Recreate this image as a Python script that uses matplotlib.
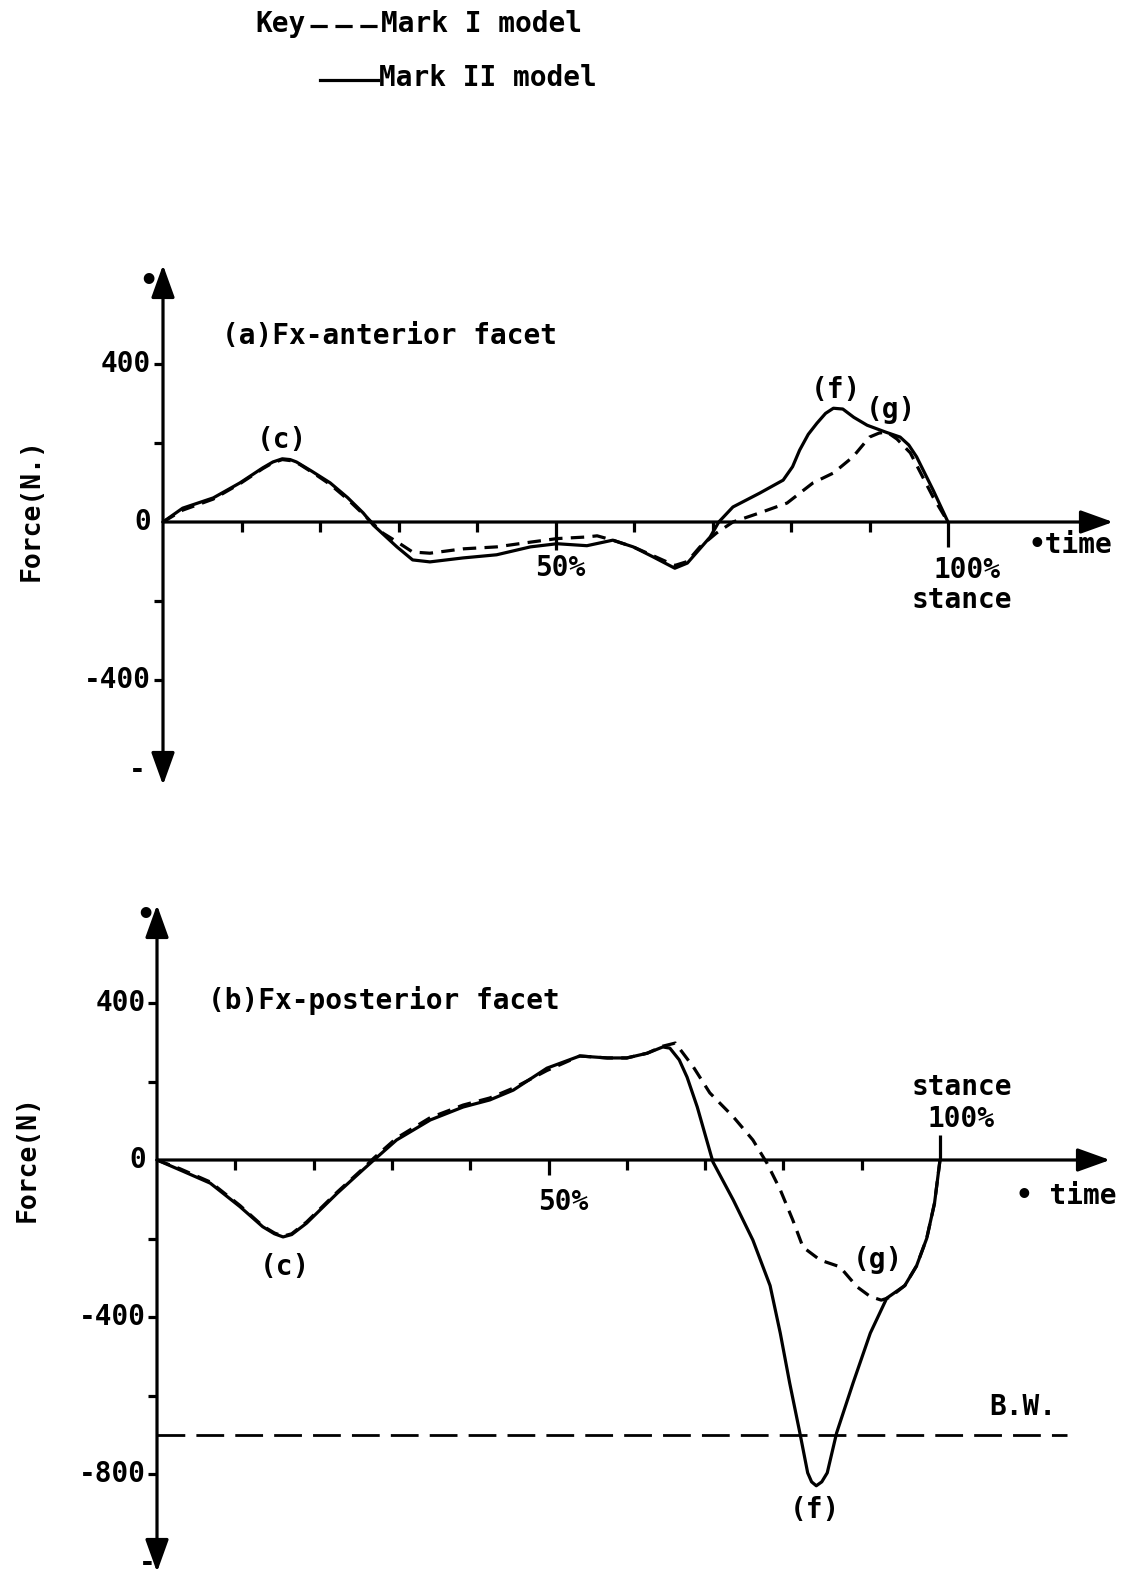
import matplotlib
matplotlib.use("Agg")
import matplotlib.pyplot as plt

W, H, DPI = 1123, 1575, 100
FONT = "DejaVu Sans Mono"
WEIGHT = "bold"
INK = "black"
LW = 2.3
FS = 20

# ---------------- data ----------------
# (a) Fx - anterior facet: % of stance vs force (N)
ant_pct_mk2 = [0, 2.5, 6.4, 9.8, 12.7, 14, 15.2, 16.2, 17, 19, 21.3, 23.5, 25.5, 26.8,
               29.8, 31.8, 34, 38.2, 42.5, 46.8, 50.2, 54, 57.3, 59.9, 62.4, 65.2,
               66.8, 69.7, 70.8, 72.6, 76, 79, 80.2, 81.1, 82.2, 83.3, 84.4, 85.4,
               86.6, 88, 89.7, 92, 93.9, 95, 96, 98.1, 100]
ant_force_mk2 = [0, 35, 61, 99, 137, 152, 160, 158, 152, 128, 99, 62, 23, -8,
                 -63, -96, -101, -91, -83, -63, -55, -60, -46, -63, -88, -117,
                 -104, -38, 0, 38, 73, 106, 140, 182, 222, 250, 275, 288, 286,
                 265, 245, 228, 215, 195, 165, 81, 0]
ant_pct_mk1 = [0, 2.5, 6.4, 9.8, 12.7, 14, 15.2, 16.4, 17.4, 19.3, 21.3, 23.5, 25.5,
               28, 29.8, 31.8, 34, 38.2, 42.5, 46.8, 50.2, 53.9, 55.3, 57.3, 59.9,
               62.4, 65.2, 66.8, 68.4, 70.5, 72.6, 76, 79.5, 82.8, 85.4, 87.9, 90,
               91.2, 92.2, 93.5, 95.2, 98.1, 100]
ant_force_mk1 = [0, 30, 58, 97, 135, 150, 158, 155, 146, 122, 95, 58, 20,
                 -28, -50, -76, -79, -68, -63, -51, -42, -38, -35, -46, -63,
                 -85, -110, -100, -63, -28, 0, 23, 48, 99, 124, 165, 215,
                 225, 228, 210, 175, 63, 0]

# (b) Fx - posterior facet
post_pct_mk2 = [0, 2.9, 6.8, 10.6, 13.5, 15, 16.1, 17.2, 19.1, 23, 26.3, 27.7, 30.6,
                34.9, 39.1, 42.5, 45.5, 49.8, 54, 57.5, 60, 62.6, 64.6, 65.5, 66.7,
                67.7, 69, 71, 73.6, 76.1, 78.3, 79.6, 80.8, 82.1, 83.1, 83.6, 84.2,
                84.9, 85.6, 86.8, 88.9, 91.1, 93.2, 95.5, 97, 98.3, 99.3, 100]
post_force_mk2 = [0, -25, -59, -119, -170, -188, -196, -190, -161, -85, -25, 0, 51,
                  102, 135, 153, 178, 234, 265, 260, 260, 272, 288, 285, 255,
                  211, 135, -5, -102, -204, -320, -441, -568, -695, -797, -820, -830,
                  -820, -797, -695, -568, -441, -352, -320, -270, -200, -110, 0]
post_pct_mk1 = [0, 2.9, 6.8, 10.6, 13.5, 15, 16.1, 17.2, 19.1, 23, 26.3, 27.7, 30.6,
                34.9, 39.1, 42.5, 45.5, 49.8, 54, 57.5, 60, 62.6, 64.6, 66.2, 68.5,
                70.6, 73.6, 76.1, 77.9, 79.6, 81.2, 82.5, 84.7, 87.2, 89.4, 91.1,
                92.5, 93.6, 95.5, 97, 98.3, 99.3, 100]
post_force_mk1 = [0, -22, -56, -116, -168, -186, -194, -188, -158, -82, -22, 5, 56,
                  108, 140, 158, 183, 228, 265, 260, 260, 272, 290, 298, 237,
                  171, 110, 51, -8, -76, -153, -222, -255, -272, -323, -348,
                  -357, -350, -320, -270, -200, -110, 0]
body_weight_N = -700

pct_ticks = [10, 20, 30, 40, 50, 60, 70, 80, 90]
ant_yticks = [400, 200, -200, -400]
ant_ylabels = ["400", "0", "-400"]
ant_ylabel_vals = [400, 0, -400]
post_yticks = [400, 200, -200, -400, -600, -800]
post_ylabels = ["400", "0", "-400", "-800"]
post_ylabel_vals = [400, 0, -400, -800]

fig = plt.figure(figsize=(W / DPI, H / DPI), dpi=DPI)
fig.patch.set_facecolor("white")


class Panel:
    """Axes whose data units map linearly onto figure pixels."""

    def __init__(self, top_px, bot_px, x0_px, px_per_pct, y0_px, px_per_N):
        self.ax = fig.add_axes([0, 1 - bot_px / H, 1, (bot_px - top_px) / H])
        self.sx, self.sy = px_per_pct, px_per_N
        self.x0, self.y0 = x0_px, y0_px
        self.ax.set_xlim(-x0_px / px_per_pct, (W - x0_px) / px_per_pct)
        self.ax.set_ylim((y0_px - bot_px) / px_per_N, (y0_px - top_px) / px_per_N)
        self.ax.set_axis_off()

    def dx(self, px):
        return px / self.sx

    def dy(self, px):
        return px / self.sy

    def at(self, px, py):
        return (px - self.x0) / self.sx, (self.y0 - py) / self.sy

    def text(self, px, py, s, **kw):
        x, y = self.at(px, py)
        kw.setdefault("ha", "center")
        kw.setdefault("va", "center")
        kw.setdefault("fontsize", FS)
        self.ax.text(x, y, s, family=FONT, weight=WEIGHT, color=INK,
                     clip_on=False, **kw)


def arrow(ax, start, end, both=False):
    style = "<|-|>" if both else "-|>"
    ax.annotate("", xy=end, xytext=start, annotation_clip=False,
                arrowprops=dict(arrowstyle=style + ",head_length=1.0,head_width=0.36",
                                mutation_scale=20, lw=LW, color=INK,
                                shrinkA=0, shrinkB=0))


def draw_frame(p, y_top_px, y_bot_px, x_end_px, yticks, ylabel_vals, ylabels,
               ylabel_right_px, tick_down, hundred_up):
    ax = p.ax
    y_top = p.at(0, y_top_px)[1]
    y_bot = p.at(0, y_bot_px)[1]
    x_end = p.at(x_end_px, 0)[0]
    arrow(ax, (0, y_bot), (0, y_top), both=True)
    arrow(ax, (0, 0), (x_end, 0))
    # x ticks
    for t in pct_ticks:
        ax.plot([t, t], [0, -p.dy(tick_down.get(t, 10))], color=INK, lw=LW,
                solid_capstyle="butt")
    sign = 1 if hundred_up else -1
    ax.plot([100, 100], [0, sign * p.dy(25)], color=INK, lw=LW, solid_capstyle="butt")
    # y ticks
    for t in yticks:
        ax.plot([-p.dx(9), 0], [t, t], color=INK, lw=LW, solid_capstyle="butt")
    for v, s in zip(ylabel_vals, ylabels):
        ax.text(p.at(ylabel_right_px, 0)[0], v, s, family=FONT, weight=WEIGHT,
                fontsize=FS, ha="right", va="center", color=INK, clip_on=False)


def curves(ax, x1, y1, x2, y2):
    ax.plot(x2, y2, color=INK, lw=LW, solid_joinstyle="round", solid_capstyle="round")
    ax.plot(x1, y1, color=INK, lw=LW, ls=(0, (4.2, 2.6)), dash_capstyle="butt",
            dash_joinstyle="round")


# ---------------- key ----------------
def fig_text(px, py, s, **kw):
    kw.setdefault("fontsize", FS)
    fig.text(px / W, 1 - py / H, s, family=FONT, weight=WEIGHT, color=INK,
             va="center", **kw)


fig_text(255, 24, "Key", ha="left")
fig.add_artist(plt.Line2D([310 / W, 380 / W], [1 - 26 / H] * 2, color=INK, lw=LW,
                          ls=(0, (5.4, 2.4))))
fig_text(381, 24, "Mark I model", ha="left")
fig.add_artist(plt.Line2D([320 / W, 378 / W], [1 - 80 / H] * 2, color=INK, lw=LW))
fig_text(379, 78, "Mark II model", ha="left")

# ---------------- panel (a) ----------------
pa = Panel(200, 830, 163, 7.85, 522, 158 / 400)
draw_frame(pa, 265, 785, 1113, ant_yticks, ant_ylabel_vals, ant_ylabels, 151,
           {50: 28}, hundred_up=False)
curves(pa.ax, ant_pct_mk1, ant_force_mk1, ant_pct_mk2, ant_force_mk2)
pa.text(222, 336, "(a)Fx-anterior facet", ha="left")
pa.text(282, 440, "(c)")
pa.text(836, 390, "(f)")
pa.text(891, 410, "(g)")
pa.text(560, 568, "50%")
pa.text(967, 570, "100%")
pa.text(962, 600, "stance")
pa.text(1070, 545, "•time")
pa.text(148, 282, "•", fontsize=22)
pa.text(137, 770, "-")
pa.text(32, 510, "Force(N.)", rotation=90, fontsize=19)

# ---------------- panel (b) ----------------
pb = Panel(860, 1575, 157, 7.83, 1160, 157 / 400)
draw_frame(pb, 905, 1572, 1110, post_yticks, post_ylabel_vals, post_ylabels, 146,
           {50: 15}, hundred_up=True)
curves(pb.ax, post_pct_mk1, post_force_mk1, post_pct_mk2, post_force_mk2)
bw_end = pb.at(1067, 0)[0]
pb.ax.plot([0, bw_end], [body_weight_N, body_weight_N], color=INK, lw=2.0,
           ls=(0, (10, 4)))
pb.text(1023, 1407, "B.W.")
pb.text(208, 1001, "(b)Fx-posterior facet", ha="left")
pb.text(285, 1267, "(c)")
pb.text(878, 1260, "(g)")
pb.text(815, 1510, "(f)")
pb.text(563, 1202, "50%")
pb.text(962, 1087, "stance")
pb.text(961, 1119, "100%")
pb.text(1066, 1196, "• time")
pb.text(145, 915, "•", fontsize=22)
pb.text(147, 1563, "-")
pb.text(28, 1158, "Force(N)", rotation=90, fontsize=19)

fig.savefig("out.png", dpi=DPI, facecolor="white")
